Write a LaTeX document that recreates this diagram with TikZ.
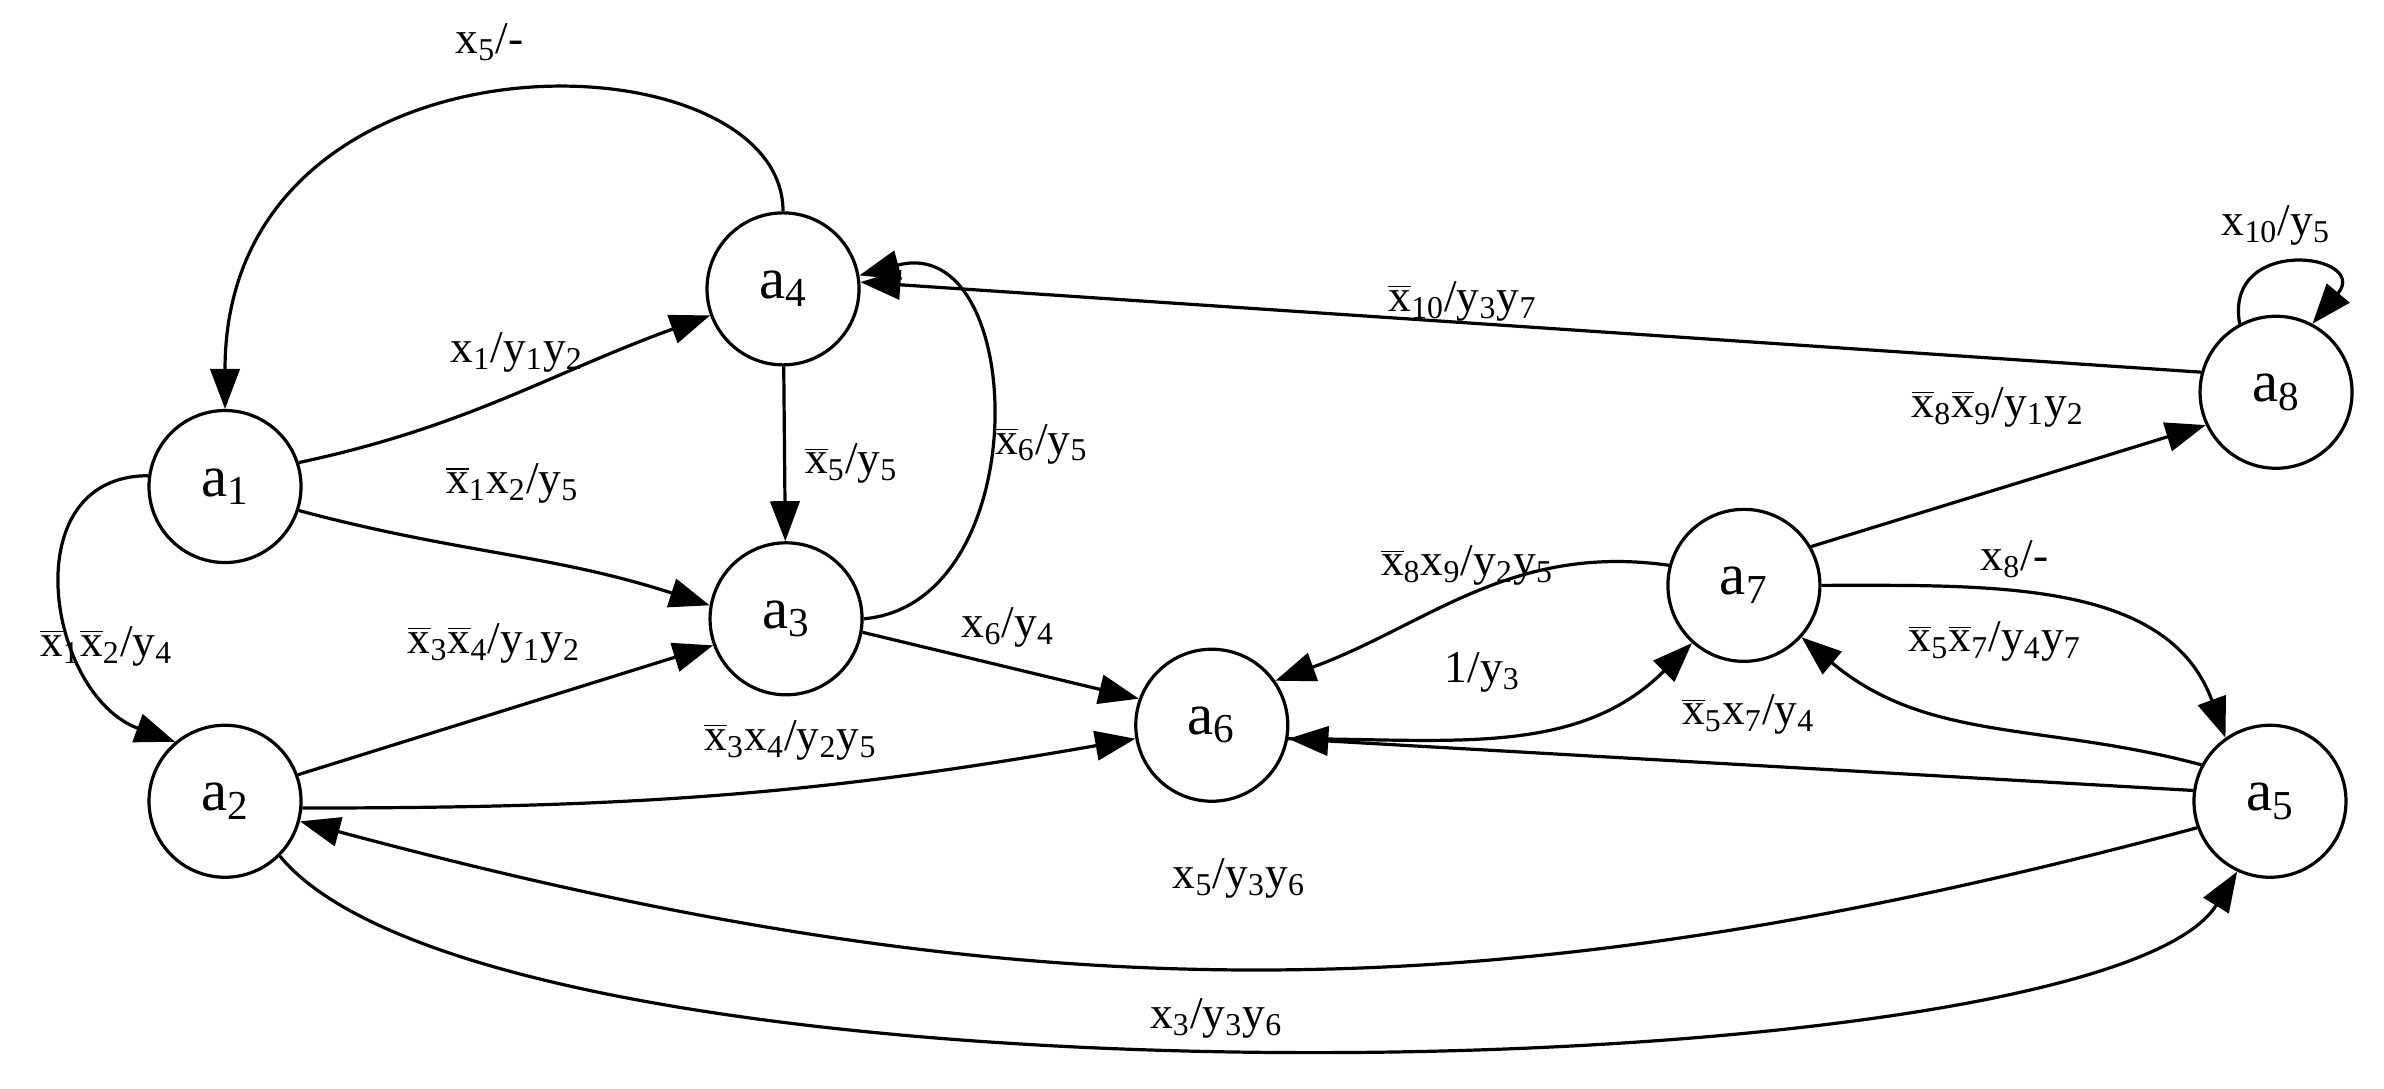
\documentclass[tikz,border=0pt]{standalone}
\usepackage{fontspec}
\setmainfont{Liberation Serif}
\usetikzlibrary{arrows.meta}
\newcommand{\ob}[1]{$\overline{\mbox{#1}}$}
\newcommand{\sx}[1]{\textsubscript{#1}}
\begin{document}
\begin{tikzpicture}[x=0.02cm,y=0.02cm,
  st/.style={circle,draw,line width=1.2pt,minimum size=2cm,inner sep=0pt,font=\fontsize{22}{26}\selectfont},
  ar/.style={line width=1.2pt,-{Triangle[length=15pt,width=11pt]}},
  lb/.style={font=\fontsize{17}{20}\selectfont,inner sep=1pt}]
\useasboundingbox (0,0) rectangle (1568,-716);
\node[st] (a1) at (148,-320) {a\sx{1}};
\node[st] (a2) at (148,-527) {a\sx{2}};
\node[st] (a3) at (517,-407) {a\sx{3}};
\node[st] (a4) at (515,-190) {a\sx{4}};
\node[st] (a6) at (797,-477) {a\sx{6}};
\node[st] (a7) at (1147,-385) {a\sx{7}};
\node[st] (a5) at (1493,-527) {a\sx{5}};
\node[st] (a8) at (1497,-258) {a\sx{8}};
\draw[ar] (a4.north) .. controls (515,-20) and (148,-10) .. (a1.north);
\draw[ar] (a1.18) to[out=12,in=200] (a4.200);
\draw[ar] (a1.-18) to[out=-15,in=162] (a3.170);
\draw[ar] (a1.172) to[out=180,in=160,looseness=1.3] (a2.130);
\draw[ar] (a2.20) -- (a3.200);
\draw[ar] (a4) -- (a3);
\draw[ar] (a3.east) to[out=5,in=15,looseness=1.3] (a4.10);
\draw[ar] (a3.-10) -- (a6.160);
\draw[ar] (a2.-5) to[out=0,in=190] (a6.190);
\draw[ar] (a8.165) -- (a4.5);
\draw[ar] (a8.118) .. controls +(100:60) and +(50:60) .. (a8.62);
\draw[ar] (a7.30) -- (a8.205);
\draw[ar] (a7.165) to[out=172,in=20] (a6.35);
\draw[ar] (a6.-10) to[out=0,in=225] (a7.228);
\draw[ar] (a7.east) to[out=0,in=110] (a5.125);
\draw[ar] (a5.152) to[out=165,in=-40] (a7.-42);
\draw[ar] (a5.172) -- (a6.-10);
\draw[ar] (a5.200) to[out=195,in=-15] (a2.-15);
\draw[ar] (a2.-45) .. controls (330,-740) and (1380,-720) .. (a5.245);
\node[lb] (l1) at (322,-28) {x\sx{5}/-};
\node[lb] (l2) at (340,-232) {x\sx{1}/y\sx{1}y\sx{2}};
\node[lb] (l3) at (337,-318) {\ob{x}\sx{1}x\sx{2}/y\sx{5}};
\node[lb] (l4) at (70,-425) {\ob{x}\sx{1}\ob{x}\sx{2}/y\sx{4}};
\node[lb] (l5) at (325,-423) {\ob{x}\sx{3}\ob{x}\sx{4}/y\sx{1}y\sx{2}};
\node[lb] (l6) at (560,-305) {\ob{x}\sx{5}/y\sx{5}};
\node[lb] (l7) at (685,-292) {\ob{x}\sx{6}/y\sx{5}};
\node[lb] (l8) at (663,-413) {x\sx{6}/y\sx{4}};
\node[lb] (l9) at (520,-487) {\ob{x}\sx{3}x\sx{4}/y\sx{2}y\sx{5}};
\node[lb] (l10) at (962,-198) {\ob{x}\sx{10}/y\sx{3}y\sx{7}};
\node[lb] (l11) at (1497,-148) {x\sx{10}/y\sx{5}};
\node[lb] (l12) at (1314,-268) {\ob{x}\sx{8}\ob{x}\sx{9}/y\sx{1}y\sx{2}};
\node[lb] (l13) at (965,-372) {\ob{x}\sx{8}x\sx{9}/y\sx{2}y\sx{5}};
\node[lb] (l14) at (975,-442) {1/y\sx{3}};
\node[lb] (l15) at (1325,-368) {x\sx{8}/-};
\node[lb] (l16) at (1312,-422) {\ob{x}\sx{5}\ob{x}\sx{7}/y\sx{4}y\sx{7}};
\node[lb] (l17) at (1150,-470) {\ob{x}\sx{5}x\sx{7}/y\sx{4}};
\node[lb] (l18) at (815,-578) {x\sx{5}/y\sx{3}y\sx{6}};
\node[lb] (l19) at (800,-670) {x\sx{3}/y\sx{3}y\sx{6}};
\end{tikzpicture}
\end{document}
